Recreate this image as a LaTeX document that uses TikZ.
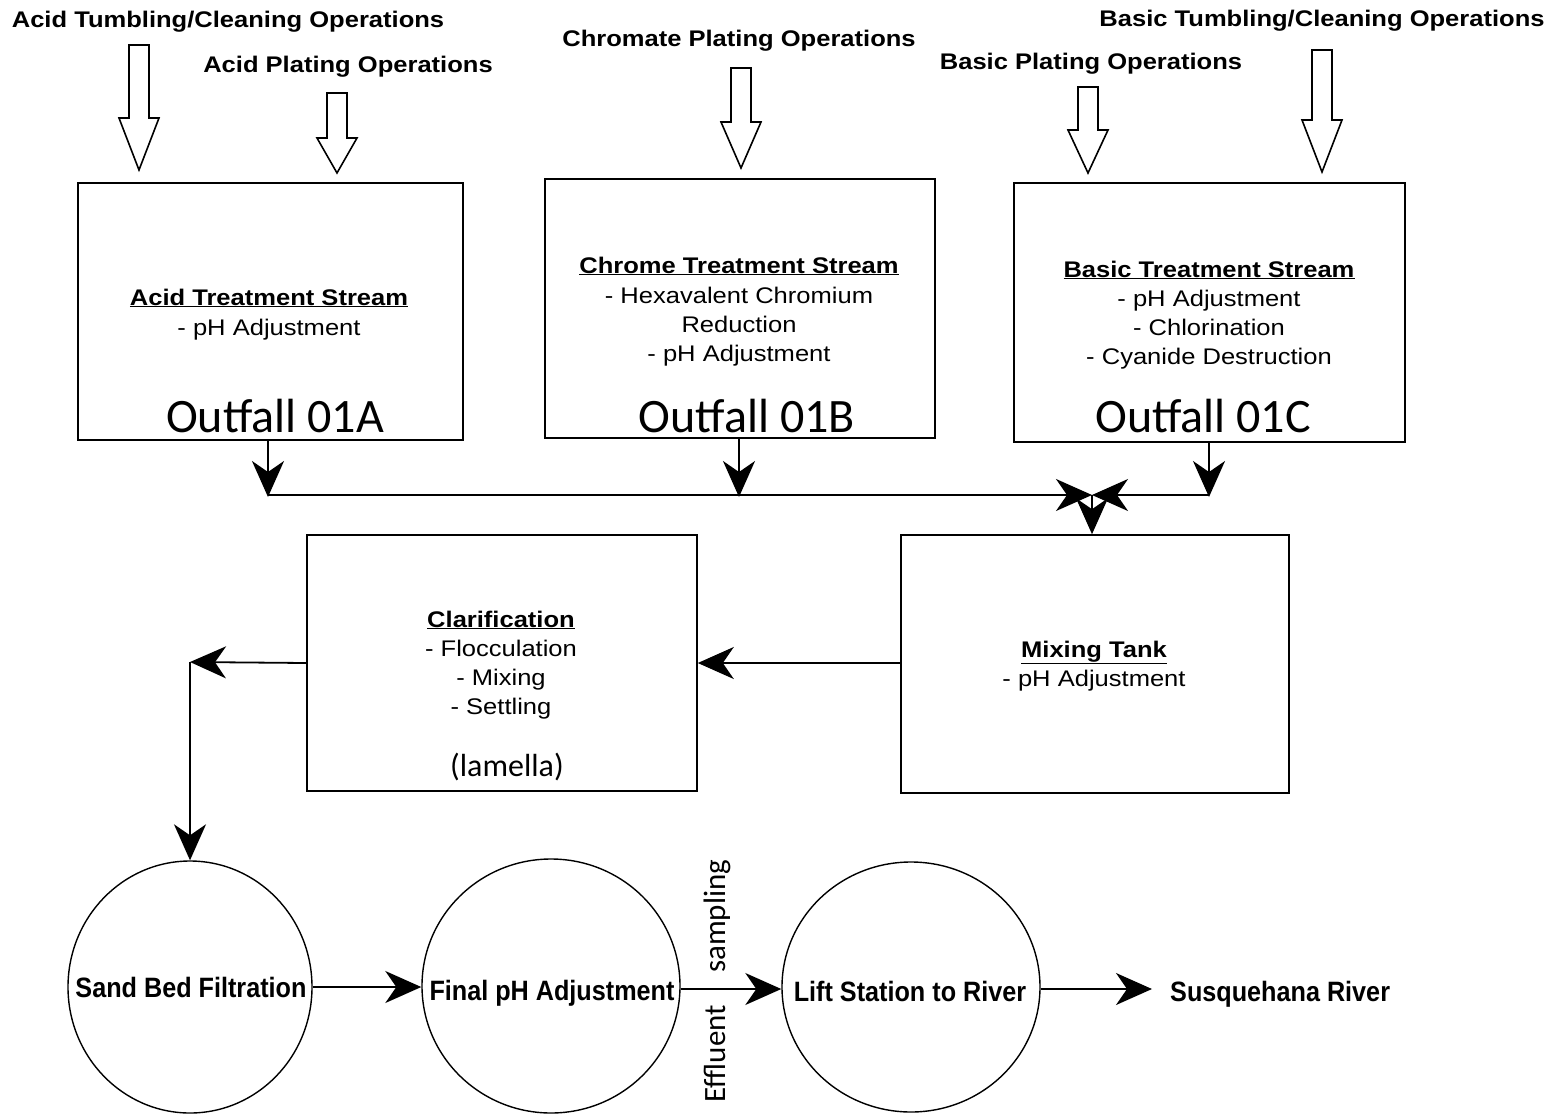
\documentclass[tikz,border=0pt]{standalone}
\usepackage{fontspec}
\setmainfont{Liberation Sans}
\newfontfamily\labfont[FakeStretch=1.13]{Liberation Sans}
\newfontfamily\botfont[FakeStretch=0.9]{Liberation Sans}
\newfontfamily\calfont{Carlito}
\usetikzlibrary{arrows.meta,shapes.geometric}
\newcommand\hollowarr[5]{%
  \draw[hollow] ({#1-10},#2) -- ({#1+10},#2) -- ({#1+10},#3) -- ({#1+20},#3)
    -- (#1,#4) -- ({#1-20},#3) -- ({#1-10},#3) -- cycle;
  \coordinate (#5) at (#1,#4);}
\tikzset{
  box/.style={draw, line width=1.6pt, rectangle, inner sep=0pt},
  ell/.style={draw, line width=1.4pt, ellipse, inner sep=0pt},
  hollow/.style={draw, line width=1.6pt, line join=miter},
  conn/.style={line width=1.8pt},
  flow/.style={line width=1.8pt, -{Stealth[length=36pt,width=32pt,inset=11pt]}},
  toplab/.style={anchor=base, inner sep=0pt, font=\labfont\fontsize{22.6}{28}\selectfont\bfseries},
  txt/.style={anchor=base, inner sep=0pt, font=\labfont\fontsize{22.6}{28}\selectfont},
  ttl/.style={anchor=base, inner sep=0pt, font=\labfont\fontsize{22.6}{28}\selectfont\bfseries},
  outf/.style={anchor=base, inner sep=0pt, font=\calfont\fontsize{48}{56}\selectfont},
  cal/.style={anchor=base, inner sep=0pt, font=\calfont\fontsize{32}{38}\selectfont},
  botlab/.style={anchor=base, inner sep=0pt, font=\botfont\fontsize{28}{32}\selectfont\bfseries},
}
\begin{document}
\begin{tikzpicture}[x=1pt,y=-1pt]
\useasboundingbox[fill=white] (0,0) rectangle (1558,1114);

% top labels
\node[toplab] (lAT) at (228,27) {Acid Tumbling/Cleaning Operations};
\node[toplab] (lAP) at (348,72) {Acid Plating Operations};
\node[toplab] (lCP) at (739,46) {Chromate Plating Operations};
\node[toplab] (lBP) at (1091,69) {Basic Plating Operations};
\node[toplab] (lBT) at (1322,26) {Basic Tumbling/Cleaning Operations};

% hollow arrows
\hollowarr{139}{45}{118}{170}{hAT}
\hollowarr{337}{93}{138}{173}{hAP}
\hollowarr{741}{68}{122}{168}{hCP}
\hollowarr{1088}{87}{130}{173}{hBP}
\hollowarr{1322}{50}{120}{172}{hBT}

% treatment boxes
\node[box, minimum width=385pt, minimum height=257pt] (A) at (270.5,311.5) {};
\node[box, minimum width=390pt, minimum height=259pt] (B) at (740,308.5) {};
\node[box, minimum width=391pt, minimum height=259pt] (C) at (1209.5,312.5) {};

\node[ttl] (At1) at (269,305) {\underline{Acid Treatment Stream}};
\node[txt] (At2) at (269,335) {- pH Adjustment};
\node[outf] (Ao) at (275,432) {Outfall 01A};

\node[ttl] (Bt1) at (739,273) {\underline{Chrome Treatment Stream}};
\node[txt] (Bt2) at (739,303) {- Hexavalent Chromium};
\node[txt] (Bt3) at (739,332) {Reduction};
\node[txt] (Bt4) at (739,361) {- pH Adjustment};
\node[outf] (Bo) at (747,432) {Outfall 01B};

\node[ttl] (Ct1) at (1209,277) {\underline{Basic Treatment Stream}};
\node[txt] (Ct2) at (1209,306) {- pH Adjustment};
\node[txt] (Ct3) at (1209,335) {- Chlorination};
\node[txt] (Ct4) at (1209,364) {- Cyanide Destruction};
\node[outf] (Co) at (1203,432) {Outfall 01C};

% middle boxes
\node[box, minimum width=390pt, minimum height=256pt] (Cl) at (502,663) {};
\node[box, minimum width=388pt, minimum height=258pt] (M) at (1095,664) {};

\node[ttl] (Cl1) at (501,627) {\underline{Clarification}};
\node[txt] (Cl2) at (501,656) {- Flocculation};
\node[txt] (Cl3) at (501,685) {- Mixing};
\node[txt] (Cl4) at (501,714) {- Settling};
\node[cal] (Cl5) at (507,776) {(lamella)};

\node[ttl] (M1) at (1094,657) {\underline{Mixing Tank}};
\node[txt] (M2) at (1094,686) {- pH Adjustment};

% bottom ellipses
\node[ell, minimum width=244pt, minimum height=252pt] (S) at (190,987) {};
\node[ell, minimum width=258pt, minimum height=254pt] (F) at (551,986) {};
\node[ell, minimum width=258pt, minimum height=250pt] (L) at (911,987) {};

\node[botlab] (St) at (191,997) {Sand Bed Filtration};
\node[botlab] (Ft) at (552,1000) {Final pH Adjustment};
\node[botlab] (Lt) at (910,1001) {Lift Station to River};
\node[botlab, anchor=base west] (R) at (1170,1001) {Susquehana River};

\node[font=\calfont\fontsize{31}{36}\selectfont, rotate=90, inner sep=0pt] (eff) at (717,981) {Effluent\hspace{32pt}sampling};

% connectors
\coordinate (bus) at (0,495);
\coordinate (jn) at (1092,495);
\draw[flow] (A.south -| 268,0) -- (268,497);
\draw[flow] (B.south -| 739,0) -- (739,497);
\draw[flow] (C.south -| 1209,0) -- (1209,497);
\draw[conn] (268,495) -- (739,495);
\draw[flow] (739,495) -- (jn);
\draw[flow] (1209,495) -- (jn);
\draw[flow] (jn) -- (M.north -| jn);

\draw[flow] (M.west |- 0,663) -- (Cl.east);
\coordinate (corner) at (190,662);
\draw[flow] (Cl.west) -- (corner);
\draw[flow] (corner) -- (S.north);

\draw[flow] (S.east |- 0,987) -- (F.west |- 0,987);
\draw[flow] (F.east |- 0,989) -- (L.west |- 0,989);
\draw[flow] (L.east |- 0,989) -- ([xshift=-18pt]R.west |- 0,989);
\end{tikzpicture}
\end{document}
